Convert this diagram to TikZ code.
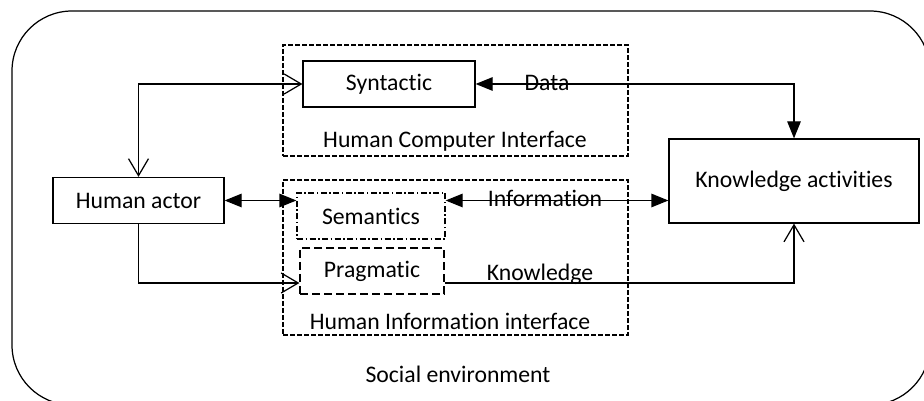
\documentclass[tikz,border=0pt]{standalone}
\usepackage{fontspec}
\setmainfont{Carlito}[Ligatures=NoCommon]
\usetikzlibrary{arrows.meta}

\begin{document}
\begin{tikzpicture}[x=0.2mm,y=-0.2mm,line width=0.7pt,
  font=\fontsize{13.5}{15}\selectfont,
  box/.style={draw,inner sep=0pt,minimum height=9.2mm},
  frame/.style={draw,dash pattern=on 1mm off 0.4mm,inner sep=0pt},
  lbl/.style={anchor=base,inner sep=0pt},
  openend/.style={-{Straight Barb[length=3.4mm,width=4mm]}},
  openboth/.style={{Straight Barb[length=3.4mm,width=4mm]}-{Straight Barb[length=3.4mm,width=4mm]}},
  fillboth/.style={{Triangle[length=3.4mm,width=2.7mm]}-{Triangle[length=3.4mm,width=2.7mm]}}]
\useasboundingbox (0,0) rectangle (924,401);
% Social environment
\begin{scope}
\clip (0,0) rectangle (924,401);
\draw[rounded corners=12mm] (12,11) rectangle (930,405);
\end{scope}
\node[lbl] (env) at (458,383) {Social environment};
% Interfaces
\node[frame,minimum width=69mm,minimum height=22.2mm] (hci) at (455.5,100.5) {};
\node[lbl] (hcilbl) at (455,148) {Human Computer Interface};
\node[frame,minimum width=69mm,minimum height=31mm] (hii) at (455.5,257.5) {};
\node[lbl] (hiilbl) at (450,330) {Human Information interface};
% Boxes
\node[box,minimum width=34.4mm] (syntactic) at (389,84) {Syntactic};
\node[box,minimum width=34.2mm] (human) at (138.5,200.5) {Human actor};
\node[box,minimum width=50mm,minimum height=16.8mm] (knowledge) at (794,181) {Knowledge activities};
\node[box,minimum width=29.6mm,dash pattern=on 1.2mm off 0.5mm on 0.3mm off 0.5mm] (semantics) at (371,216) {Semantics};
\node[box,minimum width=28.8mm,dash pattern=on 1.6mm off 0.8mm] (pragmatic) at (372,271) {Pragmatic};
\coordinate (klevel) at (138.5,283);
% Connectors
\draw[openboth] (human.north) |- (syntactic.west);
\draw[fillboth] (syntactic.east) -| (knowledge.north);
\draw[fillboth] (human.east) -- (semantics.west |- human.east);
\draw[fillboth] (semantics.east |- human.east) -- (knowledge.west |- human.east);
\draw[openend] (human.south) -- (klevel) -- (pragmatic.west |- klevel);
\draw[openend] (pragmatic.east |- klevel) -| (knowledge.south);
% Labels
\node[lbl] (data) at (547,91) {Data};
\node[lbl] (info) at (545,207) {Information};
\node[lbl] (know) at (540,281) {Knowledge};
\end{tikzpicture}
\end{document}
